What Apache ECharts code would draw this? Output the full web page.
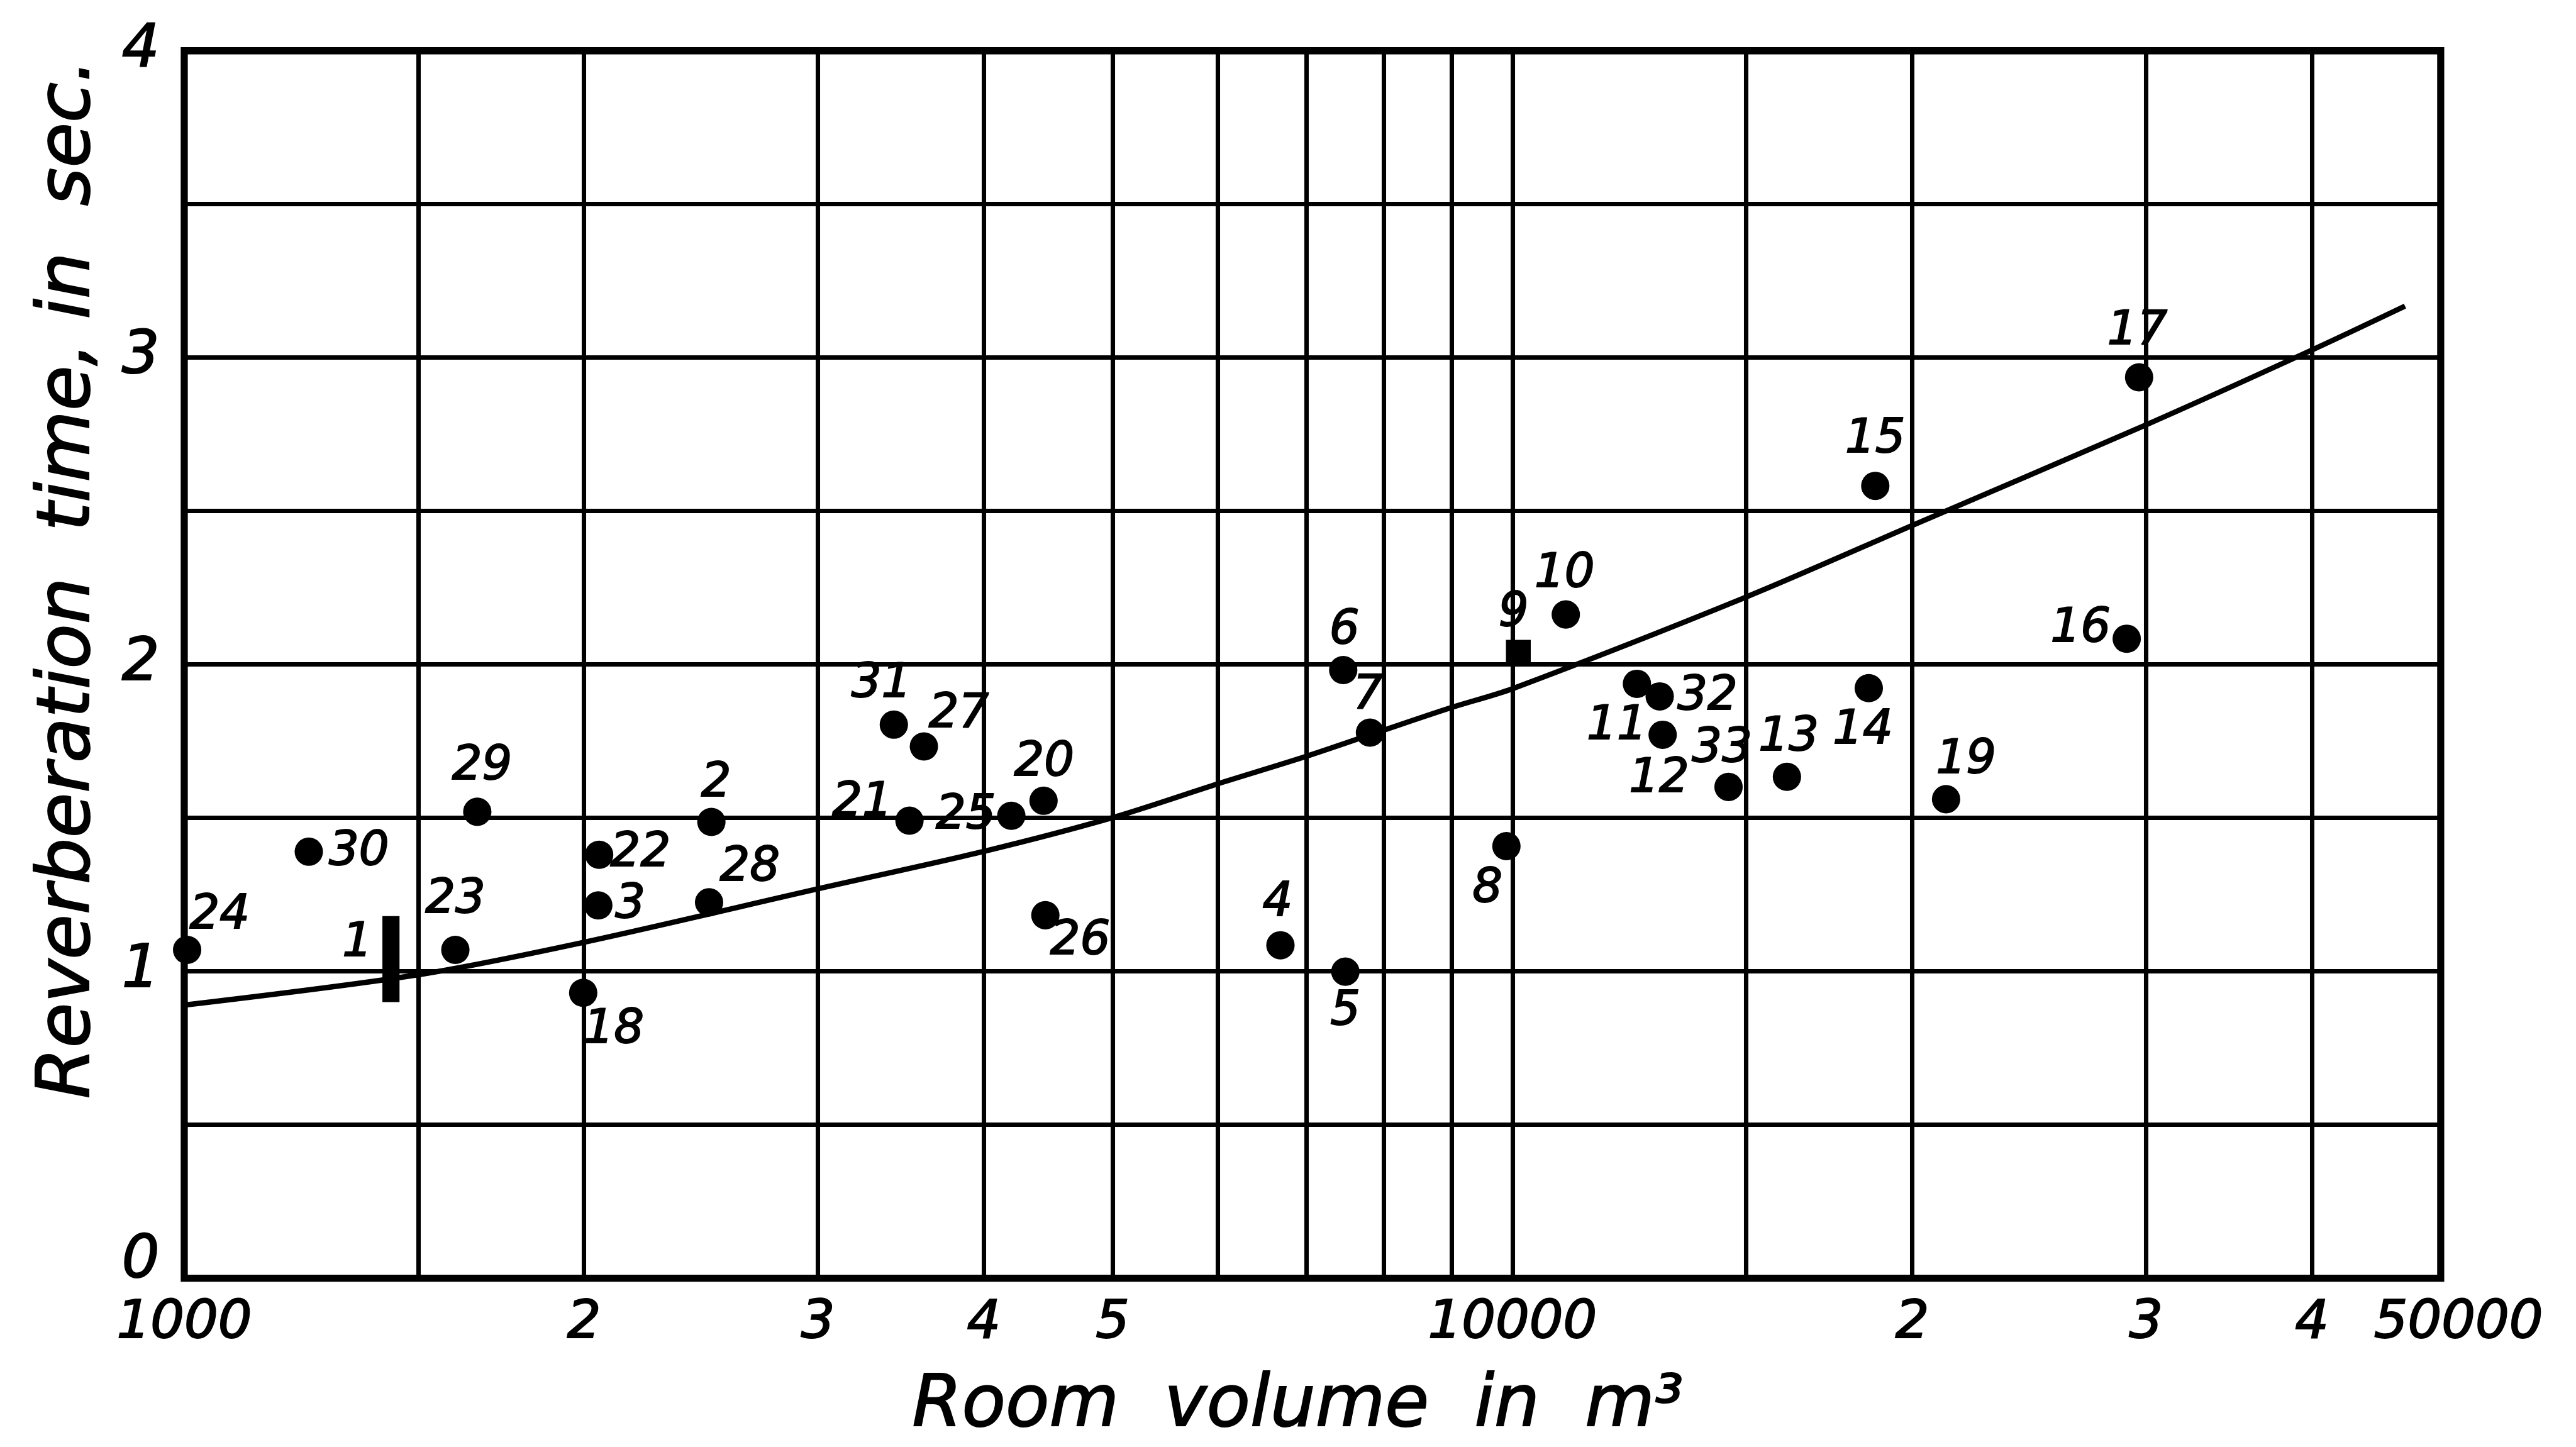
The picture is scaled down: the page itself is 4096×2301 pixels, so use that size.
<!DOCTYPE html>
<html><head><meta charset="utf-8">
<script src="https://cdn.jsdelivr.net/npm/echarts@6/dist/echarts.min.js"></script>
<style>html,body{margin:0;padding:0;background:#fff}#c{width:4096px;height:2301px}</style>
</head><body><div id="c"></div>
<script>
// ---------------- data ----------------
const pointLabels  = ['24','30','23','29','22','3','18','2','28','31','27','21','25','20','26','4','6','7','5','8','10','11','32','12','33','13','14','15','19','16','17'];
const pointVolumes = [1005,1241,1600,1662,2053,2050,1997,2494,2484,3422,3605,3516,4195,4436,4450,6689,7458,7812,7486,9897,10970,12410,12910,12976,14546,16096,18550,18760,21210,29010,29640];
const pointTimes   = [1.07,1.39,1.07,1.52,1.38,1.215,0.93,1.487,1.225,1.804,1.733,1.491,1.507,1.556,1.183,1.085,1.982,1.778,0.999,1.408,2.163,1.937,1.896,1.771,1.601,1.634,1.923,2.582,1.561,2.084,2.936];
const squareLabels  = ['9'];
const squareVolumes = [10104];
const squareTimes   = [2.04];
const barLabels     = ['1'];
const barVolumes    = [1431];
const barTimeLow    = [0.90];
const barTimeHigh   = [1.18];
const curveVolumes = [1000,1500,2000,3000,4000,5000,6000,7000,8000,9000,10000,15000,20000,30000,40000,47000];
const curveTimes   = [0.890,0.989,1.095,1.269,1.391,1.501,1.611,1.701,1.786,1.860,1.921,2.220,2.453,2.781,3.025,3.168];
const xGridValues  = [1000,1500,2000,3000,4000,5000,6000,7000,8000,9000,10000,15000,20000,30000,40000,50000];
const xLabelValues = [1000,2000,3000,4000,5000,10000,20000,30000,40000,50000];
const xLabelTexts  = ['1000','2','3','4','5','10000','2','3','4','50000'];
const yLabelValues = [0,1,2,3,4];
const xAxisTitle = 'Room  volume  in  m³';
const yAxisTitle = 'Reverberation  time, in  sec.';

// ---------------- layout (label placement, reference px) ----------------
const S = 0.939;
const labelOffsets = {
  '24':[55,-57],'30':[85,1],'1':[-57,-26],'23':[0,-84],'29':[8,-76],'22':[70,-2],'3':[54,0],'18':[52,64],
  '2':[8,-64],'28':[69,-58],'31':[-21,-68],'27':[59,-54],'21':[-80,-29],'25':[-77,0],'20':[1,-64],
  '26':[59,45],'4':[-5,-71],'6':[2,-66],'7':[-3,-62],'9':[-8,-66],'10':[-2,-68],'8':[-32,73],'11':[-34,73],
  '32':[81,1],'12':[-6,76],'33':[-11,-64],'13':[3,-66],'14':[-10,73],'15':[0,-78],'17':[-3,-77],
  '16':[-78,-16],'19':[34,-65],'5':[0,69]
};
const FONT = 'DejaVu Sans';
const TB = {textBorderColor:'#000', textBorderWidth:2.2*S};
const off = k => labelOffsets[k].map(v => v * S);
const ptLabel = Object.assign({show:true, position:'inside', formatter: p => p.name, color:'#000', opacity:1,
  fontFamily: FONT, fontStyle:'italic', fontSize: 80*S, align:'center', verticalAlign:'middle'}, TB);

const chart = echarts.init(document.getElementById('c'), null, {renderer:'canvas'});
chart.setOption({
  animation:false,
  backgroundColor:'#fff',
  grid:{left:312*S, right:4096-4133*S, top:86*S, bottom:2301-2173*S, show:true,
        borderColor:'#000', borderWidth:12*S, backgroundColor:'transparent'},
  xAxis:{
    type:'log', logBase:10, min:1000, max:50000,
    name:xAxisTitle, nameLocation:'middle', nameGap:158*S,
    nameTextStyle:Object.assign({fontFamily:FONT, fontStyle:'italic', fontSize:121*S, color:'#000', padding:[0,50*S,0,0]}, TB),
    axisLine:{show:false},
    axisTick:{show:false, customValues:xGridValues},
    splitLine:{show:true, lineStyle:{color:'#000', width:7.5*S, opacity:1}},
    minorTick:{show:false}, minorSplitLine:{show:false},
    axisLabel:{
      customValues:xLabelValues, margin:32*S, color:'#000',
      fontFamily:FONT, fontStyle:'italic', fontSize:90*S, textBorderColor:'#000', textBorderWidth:2.2*S,
      formatter: v => { const i = xLabelValues.indexOf(Math.round(v)); const t = i>=0 ? xLabelTexts[i] : '';
                        return Math.round(v) === 50000 ? '{r|' + t + '}' : t; },
      rich:{r:Object.assign({fontFamily:FONT, fontStyle:'italic', fontSize:90*S, color:'#000', padding:[0,0,0,60*S]}, TB)}
    }
  },
  yAxis:{
    type:'value', min:0, max:4, interval:0.5,
    name:yAxisTitle, nameLocation:'middle', nameGap:132*S,
    nameTextStyle:Object.assign({fontFamily:FONT, fontStyle:'italic', fontSize:124*S, color:'#000', padding:[0,0,0,290*S]}, TB),
    axisLine:{show:false}, axisTick:{show:false},
    splitLine:{show:true, lineStyle:{color:'#000', width:7.5*S, opacity:1}},
    axisLabel:{
      margin:42*S, color:'#000', fontFamily:FONT, fontStyle:'italic', fontSize:100*S, textBorderColor:'#000', textBorderWidth:2.2*S,
      formatter: v => yLabelValues.indexOf(v) < 0 ? '' : (v === 0 ? '{z|0}' : String(v)),
      rich:{z:Object.assign({fontFamily:FONT, fontStyle:'italic', fontSize:100*S, color:'#000', padding:[0,0,55*S,0]}, TB)}
    }
  },
  series:[
    { type:'line', name:'curve', data:curveVolumes.map((v,i)=>[v,curveTimes[i]]), smooth:0.3,
      symbol:'none', lineStyle:{color:'#000', width:9*S, opacity:1}, z:3, silent:true },
    { type:'scatter', name:'points', symbol:'circle', symbolSize:48*S, itemStyle:{color:'#000', opacity:1}, z:4,
      label:ptLabel,
      data:pointLabels.map((n,i)=>({name:n, value:[pointVolumes[i], pointTimes[i]], label:{offset:off(n)}})) },
    { type:'scatter', name:'square', symbol:'rect', symbolSize:42*S, itemStyle:{color:'#000', opacity:1}, z:4,
      label:ptLabel,
      data:squareLabels.map((n,i)=>({name:n, value:[squareVolumes[i], squareTimes[i]], label:{offset:off(n)}})) },
    ...barLabels.map((n,i)=>({ type:'line', name:'bar'+n, symbol:'none', z:4,
      lineStyle:{color:'#000', width:29*S, cap:'butt', opacity:1},
      data:[[barVolumes[i], barTimeLow[i]],[barVolumes[i], barTimeHigh[i]]] })),
    { type:'scatter', name:'barLabels', symbolSize:0, z:4, label:ptLabel,
      data:barLabels.map((n,i)=>({name:n, value:[barVolumes[i], (barTimeLow[i]+barTimeHigh[i])/2], label:{offset:off(n)}})) }
  ]
});
</script></body></html>
